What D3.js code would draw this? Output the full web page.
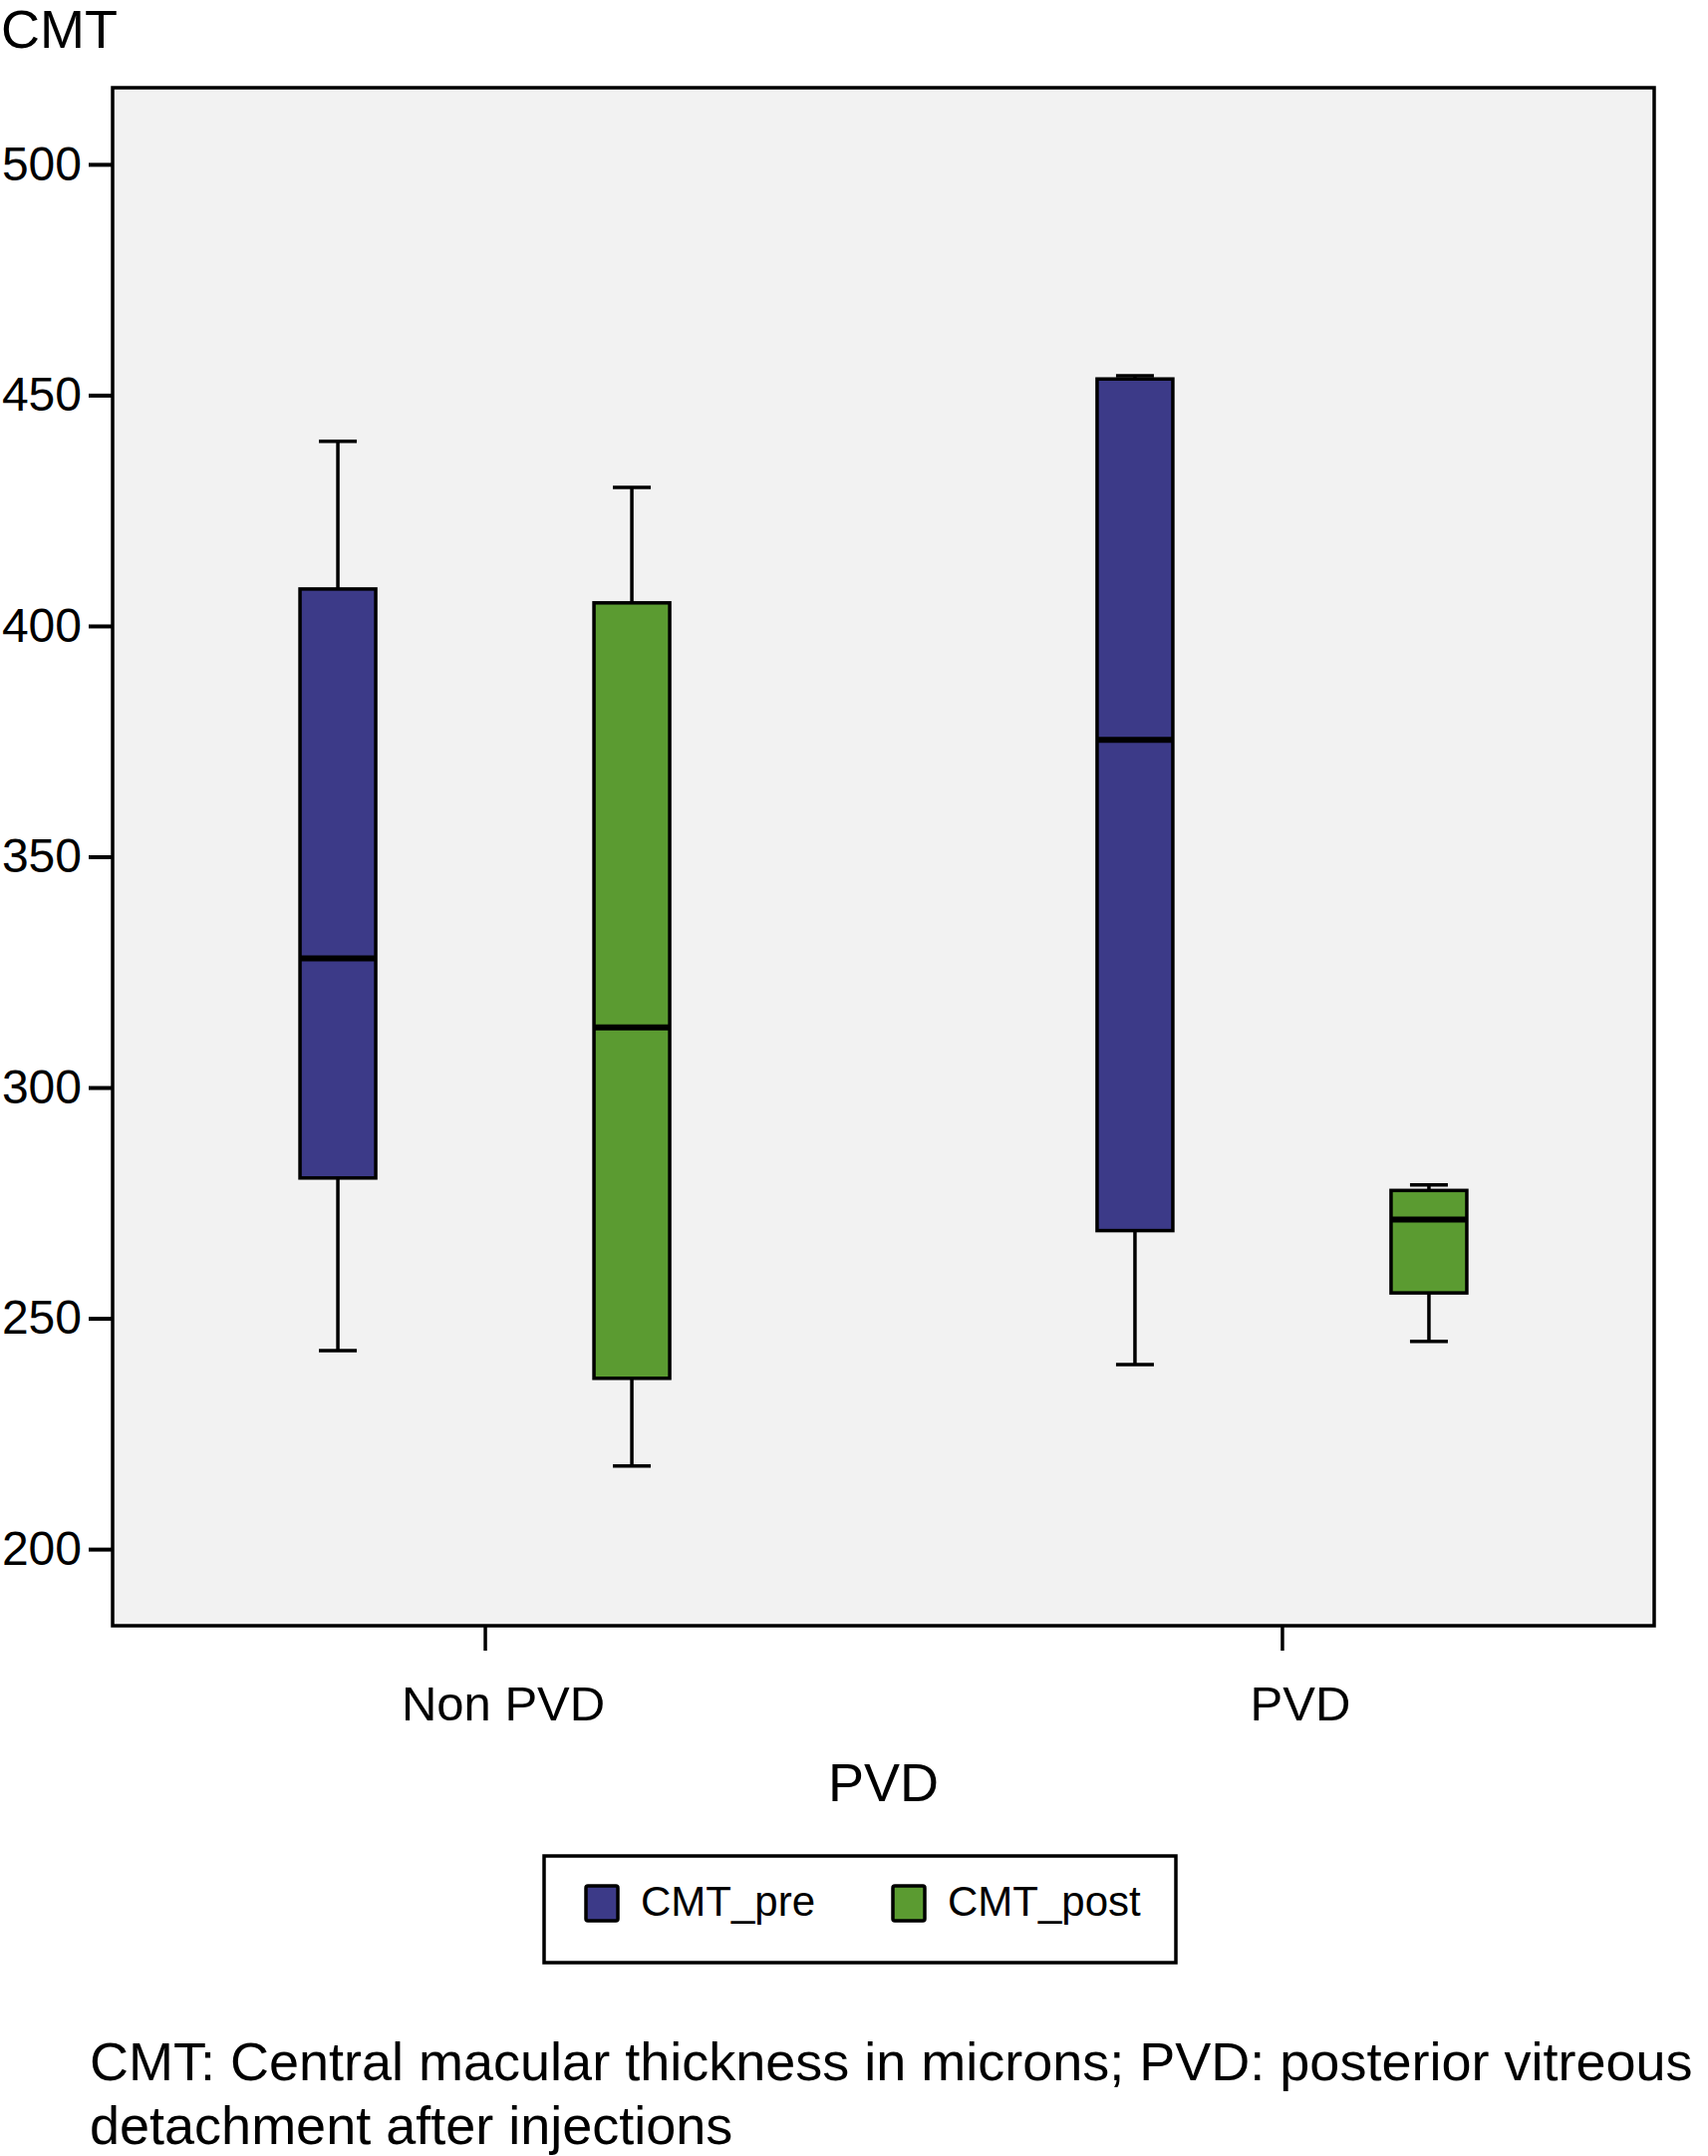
<!DOCTYPE html>
<html>
<head>
<meta charset="utf-8">
<script src="https://cdn.jsdelivr.net/npm/d3@7"></script>
<style>
    body { margin: 0; background: #ffffff; }
    text { font-family: "Liberation Sans", Arial, sans-serif; fill: #000; }
</style>
</head>
<body>
<div id="viz"></div>
<script>
// categories and series
const groups = ["Non PVD", "PVD"];
const series = ["CMT_pre", "CMT_post"];

// box plot values per group (Non PVD, PVD)
const preMin = [243, 240];
const preQ1 = [280.4, 269];
const preMedian = [328, 375.3];
const preQ3 = [408, 453.5];
const preMax = [440, 454.2];

const postMin = [218, 245];
const postQ1 = [237, 255.5];
const postMedian = [313, 271.4];
const postQ3 = [405, 277.7];
const postMax = [430, 278.9];

const yTicks = [200, 250, 300, 350, 400, 450, 500];

document.addEventListener("DOMContentLoaded", () => {

    const width = 1714;
    const height = 2163;

    const svg = d3.select("#viz")
        .append("svg")
        .attr("width", width)
        .attr("height", height);

    // plot frame
    const left = 113, right = 1660, top = 88, bottom = 1631;

    const y = d3.scaleLinear()
        .domain([183.4, 516.6])
        .range([bottom, top]);

    const x = d3.scalePoint()
        .domain(groups)
        .range([left, right])
        .padding(0.467);

    const xSeries = d3.scaleBand()
        .domain(series)
        .range([-295, 295]);

    const colors = d3.scaleOrdinal()
        .domain(series)
        .range(["#3c3a88", "#5b9b31"]);

    // build the boxes from the arrays
    const stats = {
        CMT_pre: { min: preMin, q1: preQ1, median: preMedian, q3: preQ3, max: preMax },
        CMT_post: { min: postMin, q1: postQ1, median: postMedian, q3: postQ3, max: postMax }
    };

    const boxes = [];
    groups.forEach((g, i) => {
        series.forEach(s => {
            boxes.push({
                group: g,
                series: s,
                min: stats[s].min[i],
                q1: stats[s].q1[i],
                median: stats[s].median[i],
                q3: stats[s].q3[i],
                max: stats[s].max[i]
            });
        });
    });

    const boxWidth = 76;
    const capWidth = 38;
    const cx = d => x(d.group) + xSeries(d.series) + xSeries.bandwidth() / 2;

    svg.append("rect")
        .attr("x", left)
        .attr("y", top)
        .attr("width", right - left)
        .attr("height", bottom - top)
        .attr("fill", "#f2f2f2");

    // whiskers
    const whiskers = svg.append("g")
        .selectAll("g")
        .data(boxes)
        .enter()
        .append("g")
        .attr("stroke", "#000")
        .attr("stroke-width", 3.5);

    whiskers.append("line")
        .attr("x1", cx)
        .attr("x2", cx)
        .attr("y1", d => y(d.max))
        .attr("y2", d => y(d.min));

    whiskers.append("line")
        .attr("x1", d => cx(d) - capWidth / 2)
        .attr("x2", d => cx(d) + capWidth / 2)
        .attr("y1", d => y(d.max))
        .attr("y2", d => y(d.max));

    whiskers.append("line")
        .attr("x1", d => cx(d) - capWidth / 2)
        .attr("x2", d => cx(d) + capWidth / 2)
        .attr("y1", d => y(d.min))
        .attr("y2", d => y(d.min));

    // boxes
    svg.append("g")
        .selectAll("rect")
        .data(boxes)
        .enter()
        .append("rect")
        .attr("x", d => cx(d) - boxWidth / 2)
        .attr("y", d => y(d.q3))
        .attr("width", boxWidth)
        .attr("height", d => y(d.q1) - y(d.q3))
        .attr("fill", d => colors(d.series))
        .attr("stroke", "#000")
        .attr("stroke-width", 3.5);

    // medians
    svg.append("g")
        .selectAll("line")
        .data(boxes)
        .enter()
        .append("line")
        .attr("x1", d => cx(d) - boxWidth / 2)
        .attr("x2", d => cx(d) + boxWidth / 2)
        .attr("y1", d => y(d.median))
        .attr("y2", d => y(d.median))
        .attr("stroke", "#000")
        .attr("stroke-width", 6);

    // frame on top
    svg.append("rect")
        .attr("x", left)
        .attr("y", top)
        .attr("width", right - left)
        .attr("height", bottom - top)
        .attr("fill", "none")
        .attr("stroke", "#000")
        .attr("stroke-width", 3.5);

    // y axis
    const yAxis = svg.append("g")
        .attr("transform", `translate(${left},0)`)
        .call(d3.axisLeft(y).tickValues(yTicks).tickSize(24).tickPadding(7).tickFormat(d3.format("d")));

    yAxis.select(".domain").remove();
    yAxis.selectAll(".tick line")
        .attr("stroke", "#000")
        .attr("stroke-width", 4);
    yAxis.selectAll(".tick text")
        .style("font-size", "48px")
        .attr("fill", "#000");

    // x axis
    const xAxis = svg.append("g")
        .attr("transform", `translate(0,${bottom})`)
        .call(d3.axisBottom(x).tickSize(25).tickPadding(0));

    xAxis.select(".domain").remove();
    xAxis.selectAll(".tick line")
        .attr("stroke", "#000")
        .attr("stroke-width", 3.5);
    xAxis.selectAll(".tick text")
        .attr("y", 95)
        .attr("dy", 0)
        .attr("dx", 18)
        .style("font-size", "49px")
        .attr("fill", "#000");

    // axis titles
    svg.append("text")
        .attr("x", 1)
        .attr("y", 48)
        .style("font-size", "54px")
        .text("CMT");

    svg.append("text")
        .attr("x", (left + right) / 2)
        .attr("y", 1807)
        .attr("text-anchor", "middle")
        .style("font-size", "54px")
        .text("PVD");

    // legend
    svg.append("rect")
        .attr("x", 546)
        .attr("y", 1862)
        .attr("width", 634)
        .attr("height", 107)
        .attr("fill", "#fff")
        .attr("stroke", "#000")
        .attr("stroke-width", 3.5);

    const legendX = d3.scaleOrdinal()
        .domain(series)
        .range([588, 896]);

    const legend = svg.append("g")
        .selectAll("g")
        .data(series)
        .enter()
        .append("g")
        .attr("transform", d => `translate(${legendX(d)},1892)`);

    legend.append("rect")
        .attr("width", 32)
        .attr("height", 35)
        .attr("rx", 2)
        .attr("fill", d => colors(d))
        .attr("stroke", "#000")
        .attr("stroke-width", 3.5);

    legend.append("text")
        .attr("x", 55)
        .attr("y", 30)
        .style("font-size", "42px")
        .text(d => d);

    // caption
    const caption = [
        "CMT: Central macular thickness in microns; PVD: posterior vitreous",
        "detachment after injections"
    ];

    svg.append("g")
        .selectAll("text")
        .data(caption)
        .enter()
        .append("text")
        .attr("x", 90)
        .attr("y", (d, i) => 2087 + i * 64)
        .style("font-size", "54px")
        .text(d => d);
});
</script>
</body>
</html>
